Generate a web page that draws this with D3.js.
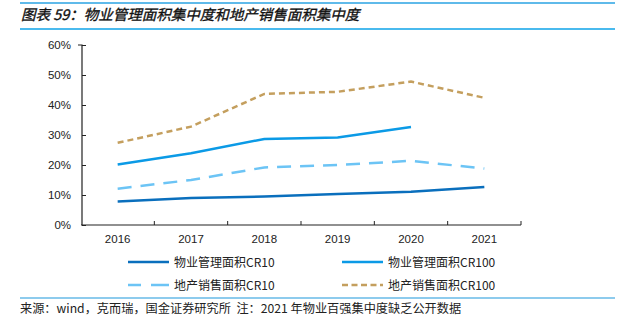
<!DOCTYPE html>
<html>
<head>
<meta charset="utf-8">
<script src="https://cdn.jsdelivr.net/npm/d3@7"></script>
<style>
  body { margin: 0; background: #fff; }
  svg text { font-family: "Liberation Sans", Arial, "Noto Sans CJK SC", sans-serif; }
</style>
</head>
<body>
<svg id="chart" width="623" height="328"></svg>
<script>
var years = ["2016", "2017", "2018", "2019", "2020", "2021"];
var yTicks = [0, 10, 20, 30, 40, 50, 60];
// 物业管理面积 / 地产销售面积, %
var wyCR10 = [7.8, 9.0, 9.5, 10.3, 11.1, 12.7];
var wyCR100 = [20.2, 23.9, 28.7, 29.2, 32.7, null];
var dcCR10 = [12.1, 15.0, 19.2, 20.0, 21.4, 18.8];
var dcCR100 = [27.4, 32.8, 43.7, 44.4, 47.8, 42.4];

var series = [
  {name: "物业管理面积CR10", data: wyCR10, color: "#0a6fbd", dash: null, w: 2.5},
  {name: "物业管理面积CR100", data: wyCR100, color: "#0b9ae6", dash: null, w: 2.5},
  {name: "地产销售面积CR10", data: dcCR10, color: "#6cc4f5", dash: "14,9", w: 2.5},
  {name: "地产销售面积CR100", data: dcCR100, color: "#c49f5e", dash: "6,4", w: 2.5}
];

var svg = d3.select("#chart");

// header / footer rules
svg.append("line").attr("x1", 20).attr("x2", 615).attr("y1", 3).attr("y2", 3)
  .attr("stroke", "#2aa3e3").attr("stroke-width", 1.5);
svg.append("line").attr("x1", 20).attr("x2", 615).attr("y1", 29).attr("y2", 29)
  .attr("stroke", "#0ea3e8").attr("stroke-width", 1.5);
svg.append("line").attr("x1", 20).attr("x2", 615).attr("y1", 298).attr("y2", 298)
  .attr("stroke", "#1d97dc").attr("stroke-width", 1.2);

svg.append("text").attr("x", 21).attr("y", 20)
  .attr("font-size", 14.5).attr("font-style", "italic")
  .attr("fill", "#111").attr("stroke", "#111").attr("stroke-width", 0.35)
  .style("font-family", "'Noto Sans CJK SC', sans-serif")
  .text("图表 59：物业管理面积集中度和地产销售面积集中度");

svg.append("text").attr("x", 20).attr("y", 313)
  .attr("font-size", 12.2).attr("fill", "#222")
  .style("font-family", "'Noto Sans CJK SC', sans-serif")
  .style("white-space", "pre")
  .text("来源：wind，克而瑞，国金证券研究所  注：2021 年物业百强集中度缺乏公开数据");

var x = d3.scaleBand().domain(years).range([81, 521]);
var y = d3.scaleLinear().domain([0, 60]).range([225, 45]);

// y axis
var yAxis = svg.append("g").attr("transform", "translate(82,0)")
  .call(d3.axisLeft(y).tickValues(yTicks).tickSize(4).tickFormat(function(d){ return d + "%"; }));
yAxis.select(".domain").attr("d", "M-4,45H0V225");
yAxis.selectAll("line").attr("x1", 0).attr("x2", 4).attr("stroke", "#222");
yAxis.selectAll("text").attr("x", -11).attr("font-size", 11.5).attr("fill", "#222")
  .style("font-family", "'Liberation Sans', Arial, sans-serif");
yAxis.select(".domain").attr("stroke", "#222").attr("stroke-width", 1.2);

// x axis
var xAxis = svg.append("g").attr("transform", "translate(0,225)")
  .call(d3.axisBottom(x).tickSize(0).tickPadding(10));
xAxis.select(".domain").attr("d", "M81,0H521").attr("stroke", "#222").attr("stroke-width", 1.2);
xAxis.selectAll("text").attr("font-size", 11.5).attr("fill", "#222")
  .style("font-family", "'Liberation Sans', Arial, sans-serif");
var bounds = years.slice(1).map(function(d){ return x(d); }).concat([x.range()[1]]);
xAxis.selectAll(".bound").data(bounds).enter().append("line")
  .attr("x1", function(d){ return d; }).attr("x2", function(d){ return d; })
  .attr("y1", 0).attr("y2", -4).attr("stroke", "#222");

var line = d3.line()
  .defined(function(d){ return d != null; })
  .x(function(d, i){ return x(years[i]) + x.bandwidth() / 2; })
  .y(function(d){ return y(d); });

series.forEach(function(s){
  svg.append("path").attr("d", line(s.data))
    .attr("fill", "none").attr("stroke", s.color).attr("stroke-width", s.w)
    .attr("stroke-dasharray", s.dash);
});

// legend
var lx = [128, 342], ly = [262, 285];
series.forEach(function(s, i){
  var gx = lx[i % 2], gy = ly[Math.floor(i / 2)];
  svg.append("line").attr("x1", gx).attr("x2", gx + 41).attr("y1", gy).attr("y2", gy)
    .attr("stroke", s.color).attr("stroke-width", s.w)
    .attr("stroke-dasharray", s.dash == "14,9" ? "13,10,18" : (s.dash ? "6,3.5" : null));
  svg.append("text").attr("x", gx + 46).attr("y", gy + 4.5)
    .attr("font-size", 12).attr("fill", "#222")
    .style("font-family", "'Noto Sans CJK SC', sans-serif")
    .text(s.name);
});
</script>
</body>
</html>
